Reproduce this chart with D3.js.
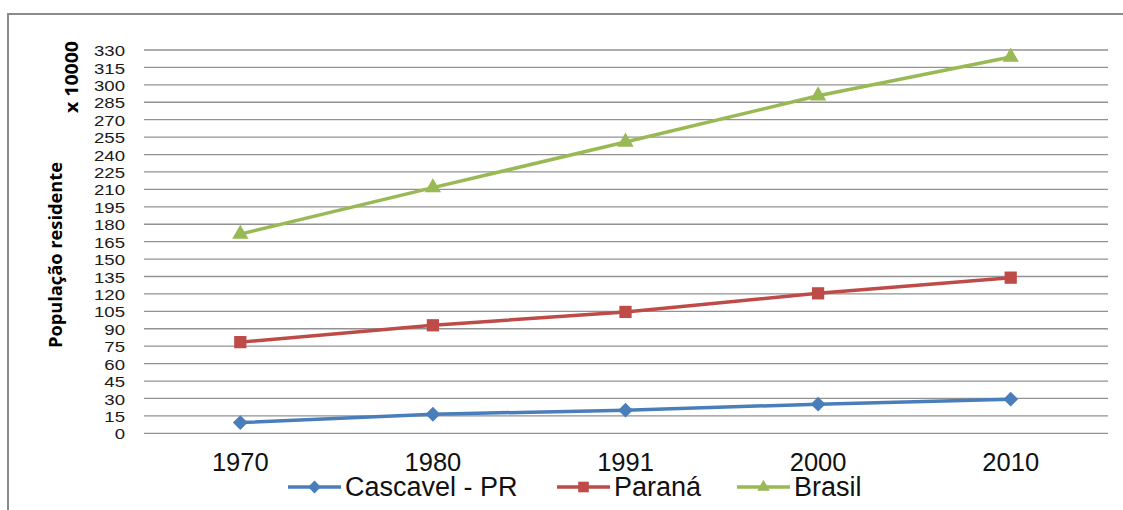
<!DOCTYPE html>
<html>
<head>
<meta charset="utf-8">
<script src="https://cdn.jsdelivr.net/npm/d3@7"></script>
<style>
  body { margin: 0; background: #fff; }
  svg { display: block; font-family: "Liberation Sans", Arial, sans-serif; }
</style>
</head>
<body>
<div id="chart"></div>
<script>
const years = ['1970', '1980', '1991', '2000', '2010'];
const cascavel = [9.2, 16.4, 19.9, 25.1, 29.4];
const parana = [78.5, 93, 104.5, 120.5, 134];
const brasil = [171.5, 211.5, 250.8, 290.6, 324];
const yTicks = d3.range(0, 331, 15);
const seriesNames = ['Cascavel - PR', 'Paraná', 'Brasil'];

const width = 1123;
const height = 510;
const plot = { left: 144, right: 1107, top: 50, bottom: 433.3 };

const series = [
    { name: seriesNames[0], values: cascavel, color: '#4a7ebb', marker: 'diamond' },
    { name: seriesNames[1], values: parana, color: '#be4b48', marker: 'square' },
    { name: seriesNames[2], values: brasil, color: '#98b954', marker: 'triangle' }
];

const svg = d3.select('#chart')
    .append('svg')
    .attr('width', width)
    .attr('height', height);

// outer frame (only top and left edges visible)
svg.append('path')
    .attr('d', `M8,${height} L8,14 L${width},14`)
    .attr('fill', 'none')
    .attr('stroke', '#8a8a8a')
    .attr('stroke-width', 2);

const x = d3.scaleBand().domain(years).range([plot.left, plot.right]);
const y = d3.scaleLinear().domain([0, 330]).range([plot.bottom, plot.top]);

// gridlines
svg.append('g')
    .selectAll('line')
    .data(yTicks)
    .enter()
    .append('line')
    .attr('x1', plot.left)
    .attr('x2', plot.right + 1)
    .attr('y1', d => y(d))
    .attr('y2', d => y(d))
    .attr('stroke', '#929292')
    .attr('stroke-width', 1.3);

// y axis labels
const yAxis = svg.append('g')
    .attr('transform', `translate(${plot.left},0)`)
    .call(d3.axisLeft(y).tickValues(yTicks).tickSize(0).tickFormat(d3.format('d')));
yAxis.select('.domain').remove();
yAxis.selectAll('text')
    .attr('x', -19 / 1.2)
    .attr('dy', '0.36em')
    .attr('transform', 'scale(1.2,1)')
    .style('font-family', '"Liberation Sans", Arial, sans-serif')
    .style('font-size', '15.5px')
    .attr('fill', '#1a1a1a');

// x axis labels
const xAxis = svg.append('g')
    .attr('transform', `translate(0,${plot.bottom})`)
    .call(d3.axisBottom(x).tickSize(0));
xAxis.select('.domain').remove();
xAxis.selectAll('text')
    .attr('y', 0)
    .attr('dy', 37.5)
    .style('font-family', '"Liberation Sans", Arial, sans-serif')
    .style('font-size', '25.5px')
    .attr('fill', '#111');

// axis title
svg.append('text')
    .attr('transform', 'translate(62,255) rotate(-90)')
    .attr('text-anchor', 'middle')
    .attr('textLength', 186)
    .attr('lengthAdjust', 'spacingAndGlyphs')
    .style('font-weight', 'bold')
    .style('font-size', '17px')
    .style('font-family', '"Open Sans", "Liberation Sans", sans-serif')
    .text('População residente');
svg.append('text')
    .attr('transform', 'translate(78,77) rotate(-90)')
    .attr('text-anchor', 'middle')
    .attr('textLength', 72)
    .attr('lengthAdjust', 'spacingAndGlyphs')
    .style('font-weight', 'bold')
    .style('font-size', '17px')
    .style('font-family', '"Open Sans", "Liberation Sans", sans-serif')
    .text('x 10000');

function markerPath(type, scale) {
    if (type === 'diamond') return d3.symbol().type(d3.symbolSquare).size(110 * scale)();
    if (type === 'square') return d3.symbol().type(d3.symbolSquare).size(150 * scale)();
    return d3.symbol().type(d3.symbolTriangle).size(115 * scale)();
}

const line = d3.line()
    .x((d, i) => x(years[i]) + x.bandwidth() / 2)
    .y(d => y(d));

series.forEach(s => {
    svg.append('path')
        .datum(s.values)
        .attr('d', line)
        .attr('fill', 'none')
        .attr('stroke', s.color)
        .attr('stroke-width', 3.5)
        .attr('stroke-linejoin', 'round');

    svg.append('g')
        .selectAll('path')
        .data(s.values)
        .enter()
        .append('path')
        .attr('d', markerPath(s.marker, 1))
        .attr('fill', s.color)
        .attr('transform', (d, i) => {
            const cx = x(years[i]) + x.bandwidth() / 2;
            const cy = y(d);
            return `translate(${cx},${cy})` + (s.marker === 'diamond' ? ' rotate(45)' : '');
        });
});

// legend
const legendX = [288, 557, 737];
const legend = svg.append('g');
series.forEach((s, i) => {
    const g = legend.append('g').attr('transform', `translate(${legendX[i]},487)`);
    g.append('line')
        .attr('x1', 0).attr('x2', 53)
        .attr('stroke', s.color)
        .attr('stroke-width', 3.5);
    g.append('path')
        .attr('d', markerPath(s.marker, s.marker === 'triangle' ? 0.6 : 0.75))
        .attr('fill', s.color)
        .attr('transform', 'translate(26.5,0)' + (s.marker === 'diamond' ? ' rotate(45)' : ''));
    g.append('text')
        .attr('x', 57)
        .attr('y', 8.5)
        .style('font-size', '27px')
        .attr('fill', '#111')
        .text(s.name);
});
</script>
</body>
</html>
